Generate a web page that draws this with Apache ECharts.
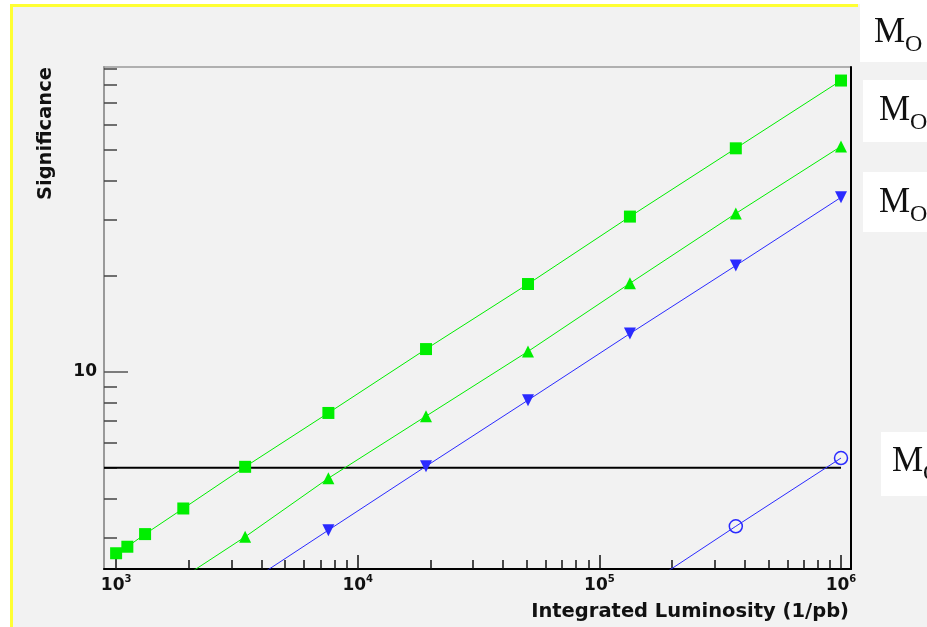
<!DOCTYPE html>
<html><head><meta charset="utf-8">
<script src="https://cdn.jsdelivr.net/npm/echarts@6/dist/echarts.min.js"></script>
<style>html,body{margin:0;padding:0;background:#fff;}#c{width:927px;height:627px;}</style>
</head><body><div id="c"></div>
<script>
// ---- data ----
const luminosity   = [1000, 1113, 1318, 1897, 3420, 7560, 19170, 50660, 133800, 367000, 1000000];
const sigSquare    = [2.69, 2.82, 3.09, 3.72, 5.03, 7.43, 11.8, 18.9, 30.8, 50.5, 82.5];
const sigTriangle  = [null, null, null, 2.26, 3.03, 4.63, 7.26, 11.6, 19.0, 31.5, 51.2];
const sigTriDown   = [null, null, null, null, 2.14, 3.18, 5.05, 8.15, 13.2, 21.6, 35.4];
const sigCircle    = [null, null, null, null, null, null, null, null, 1.97, 3.27, 5.36];
const discoverySigma = 5;
const xRange = [891, 1.1e6];
const yRange = [2.4, 91];
const xMajorTicks = [1e3, 1e4, 1e5, 1e6];
const xMinorTicks = [2e3,3e3,4e3,5e3,6e3,7e3,8e3,9e3, 2e4,3e4,4e4,5e4,6e4,7e4,8e4,9e4, 2e5,3e5,4e5,5e5,6e5,7e5,8e5,9e5];
const yMajorTicks = [10];
const yMinorTicks = [3,4,5,6,7,8,9,20,30,40,50,60,70,80,90];
const xTitle = 'Integrated Luminosity (1/pb)';
const yTitle = 'Significance';
const sideLabels = [
  {main: 'M', sub: 'O'},
  {main: 'M', sub: 'O'},
  {main: 'M', sub: 'O'},
  {main: 'M', sub: 'O'}
];

const pairs = arr => luminosity.map((x, i) => [x, arr[i]]).filter(p => p[1] != null);

const chart = echarts.init(document.getElementById('c'), null, {renderer: 'canvas'});
const GREEN = '#00ee00', BLUE = '#2a2aff';
const lineBase = {type: 'line', xAxisIndex: 0, yAxisIndex: 0, clip: true, animation: false, symbolKeepAspect: true};

const boxes = [
  {x: 860, y: 0, w: 67, h: 62, tx: 874, ty: 57},
  {x: 863, y: 80, w: 64, h: 62, tx: 879, ty: 135},
  {x: 863, y: 172, w: 64, h: 60, tx: 879, ty: 227},
  {x: 881, y: 432, w: 46, h: 64, tx: 892, ty: 486}
];
const graphics = [
  {type: 'rect', z: -20, silent: true, shape: {x: 10, y: 4, width: 917, height: 623}, style: {fill: '#f2f2f2'}},
  {type: 'rect', z: -19, silent: true, shape: {x: 10, y: 4, width: 848, height: 3}, style: {fill: '#ffff33'}},
  {type: 'rect', z: -19, silent: true, shape: {x: 10, y: 4, width: 3, height: 623}, style: {fill: '#ffff33'}}
];
boxes.forEach((b, i) => {
  graphics.push({type: 'rect', z: -18, silent: true, shape: {x: b.x, y: b.y, width: b.w, height: b.h}, style: {fill: '#ffffff'}});
  graphics.push({type: 'text', z: 10, silent: true, x: b.tx, y: b.ty,
    style: {text: '{m|' + sideLabels[i].main + '}{o|' + sideLabels[i].sub + '}',
      verticalAlign: 'bottom',
      rich: {
        m: {fontFamily: 'Liberation Serif', fontSize: 35, fill: '#111', verticalAlign: 'bottom', padding: [0, 0, 7, 0]},
        o: {fontFamily: 'Liberation Serif', fontSize: 24, fill: '#111', verticalAlign: 'bottom'}
      }}});
});

const logX = extra => Object.assign({type: 'log', logBase: 10, min: xRange[0], max: xRange[1], position: 'bottom', splitLine: {show: false}}, extra);
const logY = extra => Object.assign({type: 'log', logBase: 10, min: yRange[0], max: yRange[1], position: 'left', splitLine: {show: false}}, extra);

chart.setOption({
  animation: false,
  backgroundColor: 'transparent',
  grid: {left: 104, right: 76, top: 67, bottom: 58, show: true, borderColor: '#9a9a9a', borderWidth: 1.5, backgroundColor: 'transparent', outerBoundsMode: 'none', containLabel: false},
  xAxis: [
    logX({
      name: xTitle, nameLocation: 'end', nameGap: 0, nameMoveOverlap: false,
      nameTextStyle: {fontFamily: 'DejaVu Sans', fontWeight: 'bold', fontSize: 19.5, color: '#111', align: 'right', verticalAlign: 'top', padding: [33, 2, 0, 0]},
      axisLine: {show: true, lineStyle: {color: '#000', width: 2}},
      axisTick: {show: true, inside: true, length: 14, customValues: xMajorTicks, lineStyle: {color: '#111', width: 1.5}},
      axisLabel: {show: true, margin: 5, customValues: xMajorTicks,
        formatter: v => '{b|10}{s|' + Math.round(Math.log10(v)) + '}',
        rich: {
          b: {fontFamily: 'DejaVu Sans', fontWeight: 'bold', fontSize: 17, color: '#111', verticalAlign: 'bottom', lineHeight: 20},
          s: {fontFamily: 'DejaVu Sans', fontWeight: 'bold', fontSize: 10, color: '#111', verticalAlign: 'bottom', lineHeight: 20, padding: [0, 0, 10, 0]}
        }}
    }),
    logX({
      axisLine: {show: false}, axisLabel: {show: false},
      axisTick: {show: true, inside: true, length: 9, customValues: xMinorTicks, lineStyle: {color: '#111', width: 1.5}}
    })
  ],
  yAxis: [
    logY({
      name: yTitle, nameLocation: 'end', nameGap: 0, nameRotate: 90, nameMoveOverlap: false,
      nameTextStyle: {fontFamily: 'DejaVu Sans', fontWeight: 'bold', fontSize: 19.5, color: '#111', align: 'right', verticalAlign: 'bottom', padding: [0, 0, 48, 0], lineHeight: 20},
      axisLine: {show: true, lineStyle: {color: '#9a9a9a', width: 2}},
      axisTick: {show: true, inside: true, length: 24, customValues: yMajorTicks, lineStyle: {color: '#555', width: 1.5}},
      axisLabel: {show: true, margin: 7, customValues: yMajorTicks, formatter: v => String(Math.round(v)),
        fontFamily: 'DejaVu Sans', fontWeight: 'bold', fontSize: 17, color: '#111'}
    }),
    logY({
      axisLine: {show: false}, axisLabel: {show: false},
      axisTick: {show: true, inside: true, length: 13, customValues: yMinorTicks, lineStyle: {color: '#444', width: 1.5}}
    }),
    logY({
      position: 'right',
      axisLine: {show: true, lineStyle: {color: '#000', width: 2}}, axisLabel: {show: false}, axisTick: {show: false}
    })
  ],
  graphic: graphics,
  series: [
    Object.assign({}, lineBase, {name: '5 sigma', data: [[xRange[0], discoverySigma], [1e6, discoverySigma]], symbol: 'none',
      lineStyle: {color: '#000', width: 2}, z: 1}),
    Object.assign({}, lineBase, {name: 'squares', data: pairs(sigSquare), symbol: 'rect', symbolSize: 12,
      itemStyle: {color: GREEN}, lineStyle: {color: GREEN, width: 1}, z: 3}),
    Object.assign({}, lineBase, {name: 'triangles', data: pairs(sigTriangle), symbol: 'triangle', symbolSize: 12,
      itemStyle: {color: GREEN}, lineStyle: {color: GREEN, width: 1}, z: 3}),
    Object.assign({}, lineBase, {name: 'down triangles', data: pairs(sigTriDown), symbol: 'triangle', symbolRotate: 180, symbolSize: 12,
      itemStyle: {color: BLUE}, lineStyle: {color: BLUE, width: 1}, z: 3}),
    Object.assign({}, lineBase, {name: 'circles', data: pairs(sigCircle), symbol: 'circle', symbolSize: 13,
      itemStyle: {color: 'rgba(0,0,0,0)', borderColor: BLUE, borderWidth: 1.5}, lineStyle: {color: BLUE, width: 1}, z: 3})
  ]
});
</script></body></html>
